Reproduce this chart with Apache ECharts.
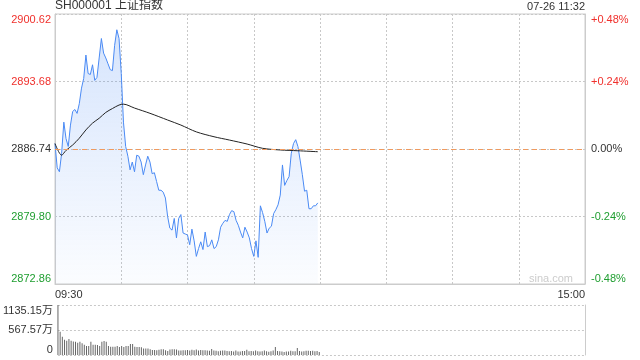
<!DOCTYPE html>
<html><head><meta charset="utf-8">
<script src="https://cdn.jsdelivr.net/npm/echarts@6/dist/echarts.min.js"></script>
<style>html,body{margin:0;padding:0;background:#fff}#c{width:640px;height:360px}</style>
</head><body><div id="c"></div>
<script>
const titleText = 'SH000001 上证指数';
const stampText = '07-26 11:32';
const watermarkText = 'sina.com';
const timeLabels = ['09:30', '15:00'];
const priceLabels = ['2872.86', '2879.80', '2886.74', '2893.68', '2900.62'];
const pctLabels = ['-0.48%', '-0.24%', '0.00%', '+0.24%', '+0.48%'];
const volLabels = ['0', '567.57万', '1135.15万'];
const prevClose = 2886.74;
const priceMin = 2872.86, priceMax = 2900.62, priceStep = 6.94;
const volMax = 1135.15;
const sessionMinutes = 240;

const price = [
2887.3,2884.8,2884.4,2886.3,2889.5,2887.8,2887.0,2889.2,2890.6,2890.8,
2890.4,2891.4,2893.0,2894.0,2896.4,2894.5,2894.4,2895.4,2893.8,2894.1,
2896.1,2898.1,2896.6,2896.1,2895.5,2894.9,2894.8,2897.4,2899.0,2898.1,
2894.5,2889.5,2887.0,2886.0,2884.6,2885.4,2884.4,2886.1,2886.0,2885.4,
2884.1,2885.1,2886.0,2885.4,2884.2,2884.3,2883.4,2882.5,2882.5,2882.3,
2881.7,2879.8,2878.6,2878.4,2879.6,2877.6,2879.6,2880.0,2878.1,2878.0,
2877.9,2876.9,2878.5,2877.3,2875.7,2876.5,2877.2,2876.4,2878.2,2876.7,
2876.8,2877.4,2876.5,2876.7,2877.4,2878.7,2879.1,2879.4,2879.3,2880.0,
2880.4,2880.3,2879.4,2878.9,2878.2,2877.6,2878.7,2878.2,2877.6,2876.5,
2875.7,2877.3,2875.6,2880.9,2880.2,2879.3,2878.1,2878.6,2878.8,2880.1,
2880.5,2881.0,2882.0,2885.1,2883.0,2883.5,2883.9,2886.3,2887.3,2887.7,
2887.0,2885.6,2884.1,2882.4,2882.5,2880.6,2880.6,2880.9,2880.9,2881.2
];

const avgIdx = [0,3,5,8,11,14,17,20,23,26,29,31,36,43,51,57,64,72,79,87,94,102,110,119];
const avgVal = [2887.3,2886.1,2886.6,2887.15,2887.85,2888.7,2889.4,2889.9,2890.5,2890.9,2891.26,2891.35,2890.95,2890.41,2889.72,2889.2,2888.5,2888.0,2887.66,2887.25,2886.81,2886.64,2886.56,2886.46];

const volume = [
1135,530,415,345,325,365,325,305,300,280,
300,265,230,205,205,300,230,230,225,205,
300,320,300,205,190,190,190,205,180,205,
180,205,205,250,250,190,180,180,175,150,
150,150,130,115,115,110,120,130,130,110,
90,125,130,130,125,100,105,110,110,115,
100,120,110,125,100,115,110,110,100,95,
135,100,95,85,95,100,100,90,85,90,
80,100,80,80,90,90,120,85,90,85,
100,85,80,85,100,85,75,85,100,180,
90,85,80,70,80,80,95,85,85,160,
90,80,85,95,95,90,95,85,90,70
];

const RED = '#f0302c', GREEN = '#1f9e30', DARK = '#333';
const FONT = 'Liberation Sans, Arial, Noto Sans CJK SC, sans-serif';
function tickColor(idx) { return idx < 2 ? GREEN : (idx === 2 ? DARK : RED); }

const chart = echarts.init(document.getElementById('c'), null, {renderer: 'canvas'});
chart.setOption({
  animation: false,
  textStyle: {fontFamily: FONT},
  grid: [
    {left: 55, right: 55, top: 14, height: 270, show: true, borderColor: '#ccc', borderWidth: 1},
    {left: 55, right: 55, top: 305, height: 50}
  ],
  xAxis: [
    {type: 'value', gridIndex: 0, min: 0, max: sessionMinutes, interval: 30,
     axisLine: {show: true, lineStyle: {color: '#ccc'}}, axisTick: {show: false},
     splitLine: {show: true, lineStyle: {color: '#c8c8c8', type: [2, 2]}},
     axisLabel: {fontSize: 11, color: DARK, margin: 5, fontFamily: FONT,
       alignMinLabel: 'left', alignMaxLabel: 'right',
       formatter: v => v === 0 ? timeLabels[0] : (v === sessionMinutes ? timeLabels[1] : '')}},
    {type: 'value', gridIndex: 1, min: 0, max: sessionMinutes, interval: 30,
     axisLine: {show: false}, axisTick: {show: false}, splitLine: {show: false}, axisLabel: {show: false}}
  ],
  yAxis: [
    {type: 'value', gridIndex: 0, position: 'left', min: priceMin, max: priceMax, interval: priceStep,
     axisLine: {show: true, lineStyle: {color: '#ccc'}}, axisTick: {show: false},
     splitLine: {show: true, lineStyle: {color: '#c8c8c8', type: [2, 2]}},
     axisLabel: {fontSize: 11, margin: 4, fontFamily: FONT,
       verticalAlignMinLabel: 'bottom', verticalAlignMaxLabel: 'top',
       color: (v, idx) => tickColor(idx), formatter: (v, idx) => priceLabels[idx]}},
    {type: 'value', gridIndex: 0, position: 'right', min: priceMin, max: priceMax, interval: priceStep,
     axisLine: {show: true, lineStyle: {color: '#ccc'}}, axisTick: {show: false},
     splitLine: {show: false},
     axisLabel: {fontSize: 11, margin: 6, fontFamily: FONT,
       verticalAlignMinLabel: 'bottom', verticalAlignMaxLabel: 'top',
       color: (v, idx) => tickColor(idx), formatter: (v, idx) => pctLabels[idx]}},
    {type: 'value', gridIndex: 1, position: 'left', min: 0, max: volMax, interval: volMax / 2,
     axisLine: {show: false}, axisTick: {show: false},
     splitLine: {show: true, lineStyle: {color: '#c8c8c8', type: [2, 2]}},
     axisLabel: {fontSize: 11, margin: 5, color: DARK, fontFamily: FONT,
       verticalAlignMinLabel: 'bottom', verticalAlignMaxLabel: 'top',
       formatter: (v, idx) => volLabels[idx]}},
    {type: 'value', gridIndex: 1, position: 'right', min: 0, max: volMax,
     axisLine: {show: true, lineStyle: {color: '#ccc'}}, axisTick: {show: false},
     splitLine: {show: false}, axisLabel: {show: false}}
  ],
  graphic: [
    {type: 'text', left: 55, top: 0, style: {text: titleText, fill: DARK, font: '12px ' + FONT}},
    {type: 'text', right: 55, top: 1, style: {text: stampText, fill: DARK, font: '11px ' + FONT}},
    {type: 'text', right: 67, top: 273, style: {text: watermarkText, fill: '#ccc', font: '11px ' + FONT}}
  ],
  series: [
    {type: 'line', xAxisIndex: 0, yAxisIndex: 0, data: price.map((v, i) => [i, v]),
     symbol: 'none', lineStyle: {color: '#4a8af4', width: 1}, z: 3,
     areaStyle: {origin: 'start', color: new echarts.graphic.LinearGradient(0, 0, 0, 1, [
       {offset: 0, color: 'rgba(74,138,244,0.32)'}, {offset: 1, color: 'rgba(74,138,244,0.03)'}])},
     markLine: {silent: true, symbol: ['none', 'none'], label: {show: false},
       lineStyle: {color: '#f09a5e', type: [5, 4], width: 1, opacity: 1}, data: [{yAxis: prevClose}]}},
    {type: 'line', xAxisIndex: 0, yAxisIndex: 0, data: avgIdx.map((x, k) => [x, avgVal[k]]),
     symbol: 'none', smooth: 0.3, lineStyle: {color: '#222', width: 1}, z: 4},
    {type: 'bar', xAxisIndex: 1, yAxisIndex: 2, data: volume.map((v, i) => [i, v]),
     barWidth: 1, itemStyle: {color: '#666'}}
  ]
});
</script></body></html>
